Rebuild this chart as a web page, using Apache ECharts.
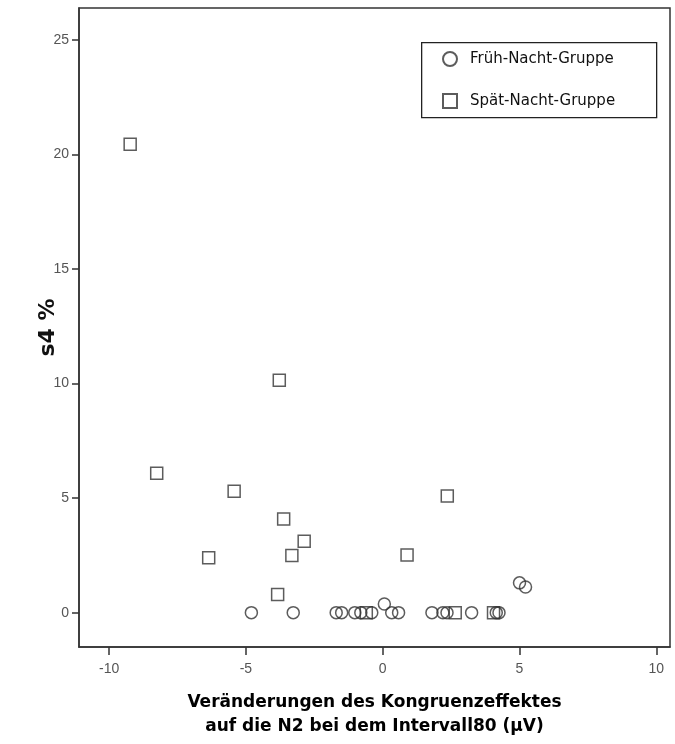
<!DOCTYPE html>
<html>
<head>
<meta charset="utf-8">
<script src="https://cdn.jsdelivr.net/npm/echarts@6/dist/echarts.min.js"></script>
<style>html,body{margin:0;padding:0;background:#fff;}#c{width:675px;height:744px;}</style>
</head>
<body>
<div id="c"></div>
<script>
// Früh-Nacht-Gruppe (circles): [x, y]
var fruehX = [-4.8, -3.27, -1.7, -1.5, -1.02, -0.8, -0.4, 0.06, 0.33, 0.58, 1.8, 2.2, 2.35, 3.25, 4.15, 4.25, 5.0, 5.22];
var fruehY = [0, 0, 0, 0, 0, 0, 0, 0.38, 0, 0, 0, 0, 0, 0, 0, 0, 1.3, 1.12];
// Spät-Nacht-Gruppe (squares)
var spaetX = [-9.23, -8.26, -6.36, -5.43, -3.78, -3.62, -3.84, -3.32, -2.87, -0.6, 0.89, 2.36, 2.65, 4.05];
var spaetY = [20.45, 6.09, 2.4, 5.3, 10.15, 4.09, 0.79, 2.49, 3.12, 0, 2.52, 5.09, 0, 0];
var xTicks = [-10, -5, 0, 5, 10];
var yTicks = [0, 5, 10, 15, 20, 25];
var seriesNames = ['Früh-Nacht-Gruppe', 'Spät-Nacht-Gruppe'];
var xTitle = 'Veränderungen des Kongruenzeffektes\nauf die N2 bei dem Intervall80 (µV)';
var yTitle = 's4 %';

function pairs(xs, ys) { return xs.map(function (v, i) { return [v, ys[i]]; }); }

var chart = echarts.init(document.getElementById('c'), null, {renderer: 'canvas'});
var mk = {color: 'rgba(0,0,0,0)', borderColor: '#333', borderWidth: 1.5};
chart.setOption({
  animation: false,
  backgroundColor: '#fff',
  grid: {left: 79, top: 8, width: 591, height: 647, show: true, borderColor: '#333', borderWidth: 1.5, backgroundColor: 'transparent'},
  graphic: [{type: 'rect', left: 421, top: 42, shape: {width: 235, height: 75}, style: {fill: 'transparent', stroke: '#222', lineWidth: 1.3}, z: 10}],
  legend: {
    orient: 'vertical', left: 437, top: 46, itemGap: 26, itemWidth: 14, itemHeight: 14,
    data: seriesNames,
    textStyle: {fontFamily: 'DejaVu Sans', fontSize: 15, color: '#111', padding: [0, 0, 0, 8]}
  },
  xAxis: {
    type: 'value', min: -11.1, max: 10.5,
    splitLine: {show: false},
    axisLine: {show: true, onZero: false, lineStyle: {color: '#333', width: 1.5}},
    axisTick: {show: true, length: 8, customValues: xTicks, lineStyle: {color: '#333', width: 1.5}},
    axisLabel: {customValues: xTicks, color: '#555', fontFamily: 'Liberation Sans', fontSize: 14, margin: 15},
    name: xTitle, nameLocation: 'middle', nameGap: 44, nameMoveOverlap: false,
    nameTextStyle: {fontFamily: 'DejaVu Sans', fontWeight: 'bold', fontSize: 17, color: '#000', lineHeight: 24}
  },
  yAxis: {
    type: 'value', min: -1.5, max: 26.4,
    splitLine: {show: false},
    axisLine: {show: true, onZero: false, lineStyle: {color: '#333', width: 1.5}},
    axisTick: {show: true, length: 7, customValues: yTicks, lineStyle: {color: '#333', width: 1.5}},
    axisLabel: {customValues: yTicks, color: '#555', fontFamily: 'Liberation Sans', fontSize: 14, margin: 10},
    name: yTitle, nameLocation: 'middle', nameGap: 20, nameRotate: 90, nameMoveOverlap: false,
    nameTextStyle: {fontFamily: 'DejaVu Sans', fontWeight: 'bold', fontSize: 22, color: '#111'}
  },
  series: [
    {name: seriesNames[0], type: 'scatter', symbol: 'circle', symbolSize: 12, data: pairs(fruehX, fruehY), itemStyle: mk},
    {name: seriesNames[1], type: 'scatter', symbol: 'rect', symbolSize: 12, data: pairs(spaetX, spaetY), itemStyle: mk}
  ]
});
</script>
</body>
</html>
